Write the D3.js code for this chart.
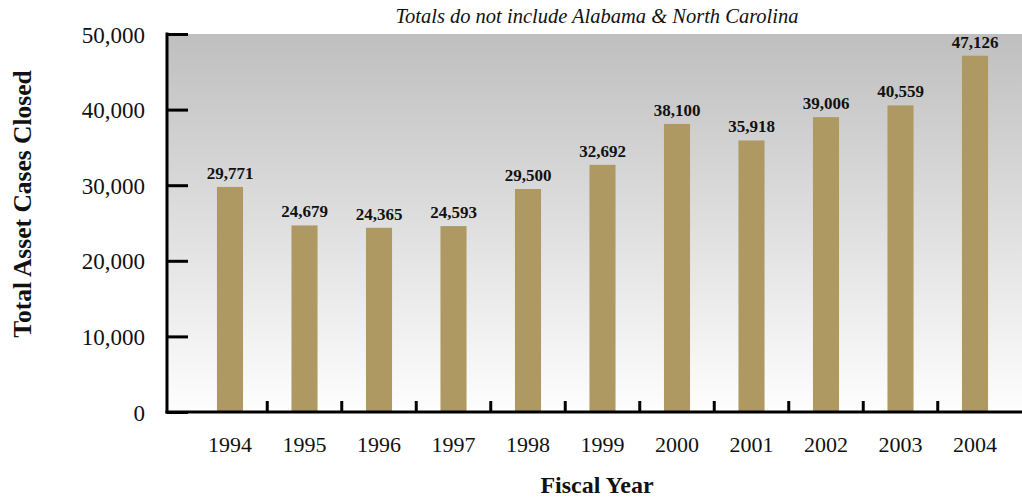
<!DOCTYPE html>
<html>
<head>
<meta charset="utf-8">
<script src="https://cdn.jsdelivr.net/npm/d3@7"></script>
<style>
  body { margin: 0; background: #fff; }
  svg text { font-family: "Liberation Serif", "DejaVu Serif", serif; fill: #111; }
</style>
</head>
<body>
<svg id="chart"></svg>
<script>
// data
const years = ["1994", "1995", "1996", "1997", "1998", "1999", "2000", "2001", "2002", "2003", "2004"];
const casesClosed = [29771, 24679, 24365, 24593, 29500, 32692, 38100, 35918, 39006, 40559, 47126];
const yTicks = [0, 10000, 20000, 30000, 40000, 50000];

const width = 1022;
const height = 500;
const plotLeft = 167, plotTop = 34, plotBottom = 412, plotRight = 1022;

const svg = d3.select("#chart").attr("width", width).attr("height", height);

// gray to white background behind the bars
const grad = svg.append("defs").append("linearGradient")
  .attr("id", "bg").attr("x1", 0).attr("y1", 0).attr("x2", 0).attr("y2", 1);
grad.append("stop").attr("offset", "0%").attr("stop-color", "#bfbfbf");
grad.append("stop").attr("offset", "100%").attr("stop-color", "#fefefe");

svg.append("rect")
  .attr("x", plotLeft).attr("y", plotTop)
  .attr("width", plotRight - plotLeft).attr("height", plotBottom - plotTop)
  .attr("fill", "url(#bg)");

const xScale = d3.scaleBand()
  .domain(years)
  .range([192.75, 1012.25])
  .paddingInner(0.65)
  .paddingOuter(0.325);

const yScale = d3.scaleLinear()
  .domain([0, 50000])
  .range([plotBottom, plotTop]);

const fmt = d3.format(",");

svg.selectAll("rect.bar")
  .data(casesClosed)
  .enter()
  .append("rect")
  .attr("class", "bar")
  .attr("x", (d, i) => xScale(years[i]))
  .attr("y", (d) => yScale(d))
  .attr("width", xScale.bandwidth())
  .attr("height", (d) => plotBottom - yScale(d))
  .attr("fill", "#af9963");

svg.selectAll("text.value")
  .data(casesClosed)
  .enter()
  .append("text")
  .attr("class", "value")
  .attr("x", (d, i) => xScale(years[i]) + xScale.bandwidth() / 2)
  .attr("y", (d) => yScale(d) - 8)
  .attr("text-anchor", "middle")
  .attr("font-size", 17)
  .attr("font-weight", "bold")
  .text((d) => fmt(d));

// y axis: ticks point inward
const yAxis = d3.axisRight(yScale)
  .tickValues(yTicks)
  .tickSize(21)
  .tickFormat(fmt);

const gy = svg.append("g")
  .attr("id", "y-axis")
  .attr("transform", `translate(${plotLeft}, 0)`)
  .call(yAxis)
  .attr("font-family", null);
gy.select(".domain").remove();
gy.selectAll(".tick line").attr("stroke", "#000").attr("stroke-width", 3);
gy.selectAll(".tick text")
  .attr("x", -22)
  .attr("dy", "0.35em")
  .attr("text-anchor", "end")
  .attr("font-size", 23);
gy.attr("font-size", null);

svg.append("line")
  .attr("x1", plotLeft).attr("x2", plotLeft)
  .attr("y1", plotTop - 1.5).attr("y2", plotBottom + 1.5)
  .attr("stroke", "#000").attr("stroke-width", 3);

// x axis: labels under bars, small ticks between them
const step = xScale.step();
const dividers = years.slice(1).map((y) => xScale(y) - (step - xScale.bandwidth()) / 2);

svg.selectAll("line.divider")
  .data(dividers)
  .enter()
  .append("line")
  .attr("class", "divider")
  .attr("x1", (d) => d).attr("x2", (d) => d)
  .attr("y1", plotBottom).attr("y2", plotBottom - 11)
  .attr("stroke", "#000").attr("stroke-width", 3);

svg.append("line")
  .attr("x1", plotLeft - 1.5).attr("x2", plotRight)
  .attr("y1", plotBottom).attr("y2", plotBottom)
  .attr("stroke", "#000").attr("stroke-width", 3);

svg.selectAll("text.year")
  .data(years)
  .enter()
  .append("text")
  .attr("class", "year")
  .attr("x", (d) => xScale(d) + xScale.bandwidth() / 2)
  .attr("y", 452)
  .attr("text-anchor", "middle")
  .attr("font-size", 22)
  .text((d) => d);

svg.append("text")
  .attr("x", 597).attr("y", 493)
  .attr("text-anchor", "middle")
  .attr("font-size", 24)
  .attr("font-weight", "bold")
  .text("Fiscal Year");

svg.append("text")
  .attr("transform", "translate(31, 204) rotate(-90)")
  .attr("text-anchor", "middle")
  .attr("font-size", 25.5)
  .attr("font-weight", "bold")
  .text("Total Asset Cases Closed");

svg.append("text")
  .attr("x", 597).attr("y", 23)
  .attr("text-anchor", "middle")
  .attr("font-size", 20.5)
  .attr("font-style", "italic")
  .text("Totals do not include Alabama & North Carolina");
</script>
</body>
</html>
